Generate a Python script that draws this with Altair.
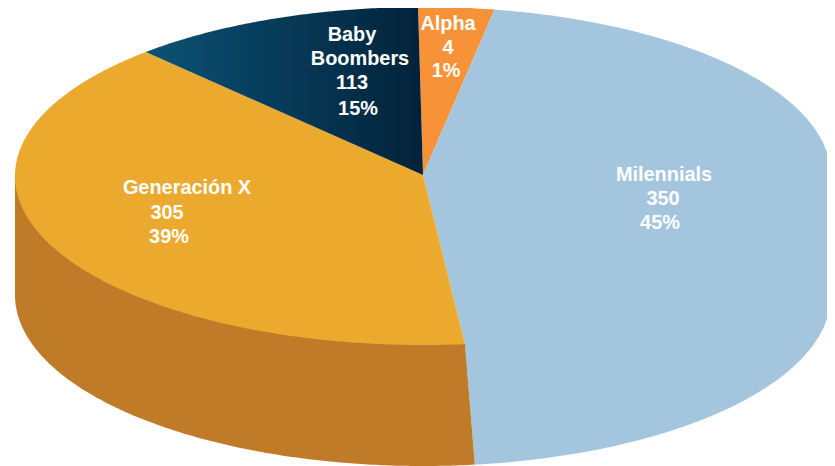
import math
import altair as alt
import pandas as pd

# Chart content
generations = ["Alpha", "Milennials", "Generación X", "Baby Boomers"]
counts = [4, 350, 305, 113]
percents = ["1%", "45%", "39%", "15%"]
# Sweep of each slice as drawn, in degrees clockwise from the start of Alpha
drawn_sweep = [10.8, 164.0, 143.1, 42.1]
start_angle = -0.7

top_colors = {"Alpha": "#F79239", "Milennials": "#A3C6DE", "Generación X": "#EBA92D"}
wall_gold = "#C07B29"
wall_blue = "#A3C6DE"
boomer_gradient = alt.Gradient(
    gradient="linear", x1=0, x2=1, y1=0, y2=0,
    stops=[alt.GradientStop(offset=0, color="#0B5275"),
           alt.GradientStop(offset=1, color="#02223A")],
)

# Pie geometry, in picture units
CX, CY, RX, RY = 423.0, 176.0, 408.0, 169.0
WALL_CX, WALL_CY, WALL_RY = 423.0, 295.0, 171.0

x_scale = alt.Scale(domain=[8, 827], nice=False)
y_scale = alt.Scale(domain=[466, 8], nice=False)


def rim(angle, cx=CX, cy=CY, ry=RY):
    a = math.radians(angle)
    return cx + RX * math.sin(a), cy - ry * math.cos(a)


def arc(a0, a1, **kw):
    n = max(2, int(abs(a1 - a0) * 2))
    return [rim(a0 + (a1 - a0) * i / n, **kw) for i in range(n + 1)]


def polygon(points, fill):
    df = pd.DataFrame(points + points[:1], columns=["x", "y"])
    df["i"] = range(len(df))
    return alt.Chart(df).mark_line(fill=fill, stroke=None, interpolate="linear-closed").encode(
        x=alt.X("x:Q", scale=x_scale, axis=None),
        y=alt.Y("y:Q", scale=y_scale, axis=None),
        order=alt.Order("i:Q"),
    )


layers = []
edges = [start_angle]
for s in drawn_sweep:
    edges.append(edges[-1] + s)

# Side walls: each runs up under the top surface so that no seam shows
mil_end = edges[2]
wall_end = mil_end - 1.4
wall_arc = dict(cx=WALL_CX, cy=WALL_CY, ry=WALL_RY)
layers.append(polygon([rim(90), rim(mil_end)] + arc(wall_end, 90, **wall_arc), wall_blue))
layers.append(polygon([rim(mil_end), rim(270)] + arc(270, wall_end, **wall_arc), wall_gold))

# Top slices
for k, name in enumerate(generations):
    fill = top_colors.get(name, boomer_gradient)
    layers.append(polygon([(CX, CY - 1)] + arc(edges[k], edges[k + 1]), fill))

# Labels: text comes from the arrays; each line is placed by hand like the original
label_lines = {
    "Baby Boomers": ["Baby", "Boombers", str(counts[3]), percents[3]],
    "Alpha": [generations[0], str(counts[0]), percents[0]],
    "Generación X": [generations[2], str(counts[2]), percents[2]],
    "Milennials": [generations[1], str(counts[1]), percents[1]],
}
label_anchor = {
    "Baby Boomers": [(352, 35), (360, 59), (352, 83), (358, 109)],
    "Alpha": [(448, 24), (448, 48), (446, 71)],
    "Generación X": [(187, 188), (167, 213), (169, 237)],
    "Milennials": [(664, 175), (663, 199), (660, 223)],
}
for name, lines in label_lines.items():
    for line, (px, py) in zip(lines, label_anchor[name]):
        layers.append(
            alt.Chart(pd.DataFrame({"t": [line]})).mark_text(
                font="Liberation Sans", fontWeight="bold", fontSize=19.9,
                color="white", align="center", baseline="middle",
            ).encode(x=alt.value(px - 8), y=alt.value(py - 8), text="t:N")
        )

chart = alt.layer(*layers).properties(
    width=819, height=458, padding=0,
    background="white",
    autosize=alt.AutoSizeParams(type="none"),
).configure_view(stroke=None)

chart.save("out.html", embed_options={"renderer": "svg", "actions": False})
